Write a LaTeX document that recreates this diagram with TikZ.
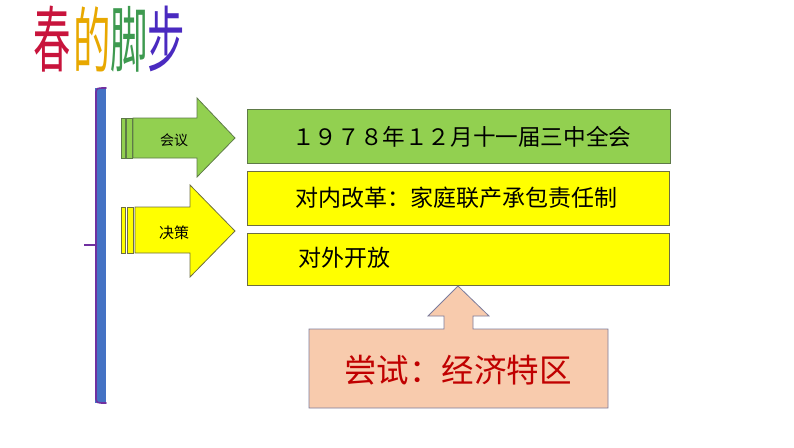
\documentclass[tikz,border=0pt]{standalone}
\usepackage{fontspec}
\setmainfont{Noto Sans CJK SC}
\newfontfamily\cjk{Noto Sans CJK SC}
\definecolor{gfill}{HTML}{92D050}
\definecolor{gline}{HTML}{5E7A48}
\definecolor{yfill}{HTML}{FFFF00}
\definecolor{yline}{HTML}{6E6E40}
\definecolor{pfill}{HTML}{F8CBAD}
\definecolor{pline}{HTML}{7C7C9C}
\definecolor{barblue}{HTML}{4472C4}
\definecolor{barpurple}{HTML}{7030A0}
\definecolor{tred}{HTML}{C00000}
\definecolor{t1}{HTML}{C8143C}
\definecolor{t2}{HTML}{E8A800}
\definecolor{t3}{HTML}{3E9A50}
\definecolor{t4}{HTML}{4A2AC0}
\begin{document}
\begin{tikzpicture}[x=1pt,y=-1pt,
  boxtxt/.style={font=\cjk\fontsize{22.6}{26}\selectfont, text=black, inner sep=0pt},
  lbl/.style={font=\cjk\fontsize{14}{16}\selectfont, text=black, inner sep=0pt},
  ttl/.style={font=\cjk\fontsize{72}{74}\selectfont, inner sep=0pt, xscale=0.52},
  gshape/.style={fill=gfill, draw=gline, line width=0.8pt},
  yshape/.style={fill=yfill, draw=yline, line width=0.8pt},
  pshape/.style={fill=pfill, draw=pline, line width=0.8pt}]
\useasboundingbox (0,0) rectangle (794,447);
% title
\node[ttl, text=t1] (c1) at (52,39) {春};
\node[ttl, text=t2] (c2) at (92,39) {的};
\node[ttl, text=t3] (c3) at (129,39) {脚};
\node[ttl, text=t4] (c4) at (166,39) {步};
% bar
\fill[barblue] (95,88) rectangle (106,403);
\draw[barpurple, line width=1.6pt, line cap=round] (106,88) .. controls (97,88) .. (96,92) -- (96,399) .. controls (97,403) .. (106,403);
\coordinate (tickA) at (84,245);
\coordinate (tickB) at (96,245);
\draw[barpurple, line width=1.6pt] (tickA) -- (tickB);
% green arrow
\draw[gshape] (121,118) rectangle (125,158);
\draw[gshape] (126,118) rectangle (132,158);
\draw[gshape] (133,118) -- (197,118) -- (197,98) -- (235,138) -- (197,177) -- (197,158) -- (133,158) -- cycle;
\node[lbl] (huiyi) at (174,140) {会议};
% yellow arrow
\draw[yshape] (121,207) rectangle (125,253);
\draw[yshape] (127,207) rectangle (133,253);
\draw[yshape] (135,207) -- (190,207) -- (190,185) -- (235,231) -- (190,277) -- (190,253) -- (135,253) -- cycle;
\node[lbl, font=\cjk\fontsize{15}{17}\selectfont] (juece) at (174,233) {决策};
% boxes
\draw[gshape] (247,109) rectangle (670,163);
\node[boxtxt, anchor=west] (b1) at (292,137) {１９７８年１２月十一届三中全会};
\draw[yshape] (247,171) rectangle (669,225);
\node[boxtxt, anchor=west, font=\cjk\fontsize{23}{26}\selectfont] (b2) at (295,198) {对内改革：家庭联产承包责任制};
\draw[yshape] (247,233) rectangle (669,285);
\node[boxtxt, anchor=west, font=\cjk\fontsize{23}{26}\selectfont] (b3) at (298,258) {对外开放};
% callout
\draw[pshape] (309,329) -- (444,329) -- (444,316) -- (428,316) -- (458,286) -- (489,316) -- (473,316) -- (473,329) -- (608,329) -- (608,408) -- (309,408) -- cycle;
\node[font=\cjk\fontsize{32.5}{36}\selectfont, text=tred, inner sep=0pt] (tx) at (458,370) {尝试：经济特区};
\end{tikzpicture}
\end{document}
